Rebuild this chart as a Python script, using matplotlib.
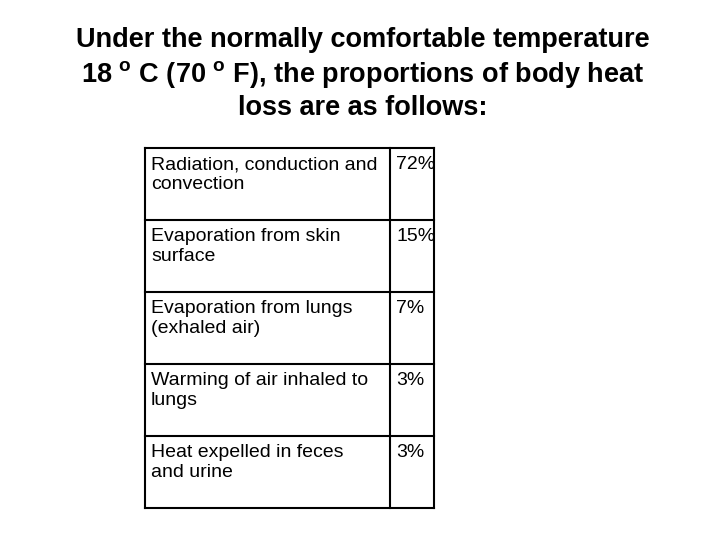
import matplotlib
matplotlib.use("Agg")
import matplotlib.pyplot as plt

plt.rcParams['font.family'] = ['Liberation Sans', 'DejaVu Sans']
plt.rcParams['mathtext.fontset'] = 'custom'
plt.rcParams['mathtext.rm'] = 'Liberation Sans:bold'

title_lines = ["Under the normally comfortable temperature",
               r"18 $^{\mathrm{o}}$ C (70 $^{\mathrm{o}}$ F), the proportions of body heat",
               "loss are as follows:"]
categories = ["Radiation, conduction and\nconvection",
              "Evaporation from skin\nsurface",
              "Evaporation from lungs\n(exhaled air)",
              "Warming of air inhaled to\nlungs",
              "Heat expelled in feces\nand urine"]
values = ["72%", "15%", "7%", "3%", "3%"]

fig = plt.figure(figsize=(7.2, 5.4), dpi=100)
ax = fig.add_axes([0, 0, 1, 1])
ax.set_xlim(0, 720); ax.set_ylim(540, 0); ax.axis('off')

for i, t in enumerate(title_lines):
    ax.text(363, 40 + 34 * i, t, ha='center', va='center', fontsize=19.5, fontweight='bold')

x0, x1, x2 = 145, 390, 434
top, rh = 148, 72
n = len(categories)
bottom = top + rh * n
lw = 1.5
for k in range(n + 1):
    ax.plot([x0, x2], [top + rh * k] * 2, color='black', lw=lw)
for x in (x0, x1, x2):
    ax.plot([x, x], [top, bottom], color='black', lw=lw)
for i, (c, v) in enumerate(zip(categories, values)):
    y = top + rh * i + 8
    ax.text(x0 + 6, y, c, ha='left', va='top', fontsize=14, linespacing=1.2)
    ax.text(x1 + 6, y, v, ha='left', va='top', fontsize=14)

fig.savefig("out.png", dpi=100)
